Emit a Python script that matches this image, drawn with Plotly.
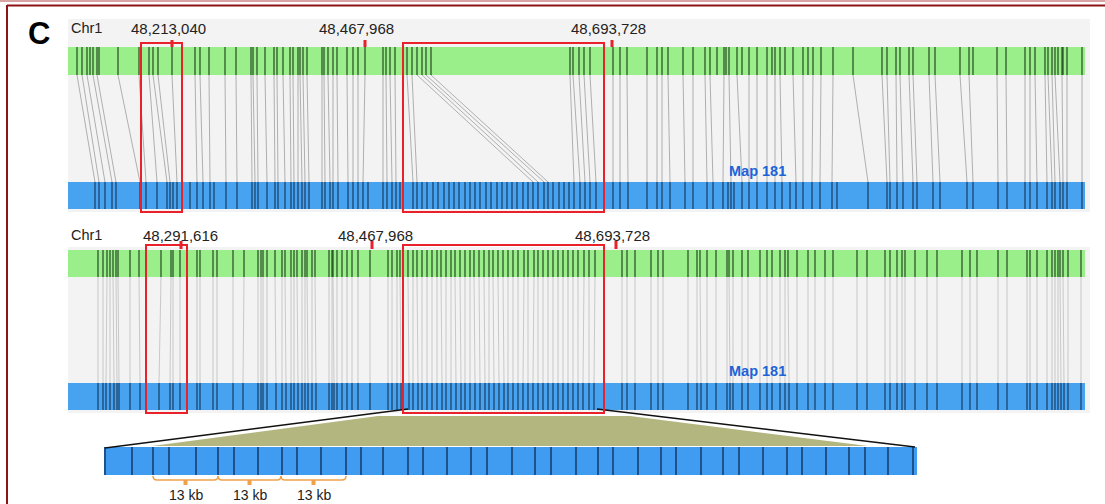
import plotly.graph_objects as go

# ---------------- data (positions in the drawing's horizontal units) ----------------
REF1 = [77, 82, 87, 90, 93, 97, 99, 118, 139, 149, 153, 158, 172, 195, 200, 209, 225, 236, 251, 253, 257,
        265, 274, 277, 283, 290, 293, 298, 300, 303, 307, 322, 324, 328, 333, 337, 347, 353, 358, 365, 383,
        386, 390, 395, 407, 412, 417, 422, 426, 431, 570, 573, 579, 584, 590, 613, 620, 627, 647, 657, 662,
        668, 683, 693, 705, 710, 717, 724, 726, 729, 737, 742, 749, 757, 767, 772, 775, 780, 785, 793, 803,
        808, 813, 821, 833, 853, 882, 887, 896, 900, 909, 913, 929, 935, 960, 969, 973, 997, 1006, 1025,
        1030, 1035, 1045, 1048, 1052, 1055, 1058, 1062, 1063, 1067, 1082]

MAP1 = [95, 99, 105, 112, 116, 140, 146, 157, 167, 170, 173, 177, 190, 197, 203, 210, 214, 226, 237, 252,
        255, 258, 267, 275, 278, 285, 291, 294, 298, 302, 305, 309, 322, 325, 330, 333, 338, 348, 353, 358,
        363, 368, 383, 387, 392, 396, 400, 413, 417, 422, 427, 433, 438, 444, 449, 454, 459, 465, 470, 475,
        480, 486, 491, 497, 502, 507, 512, 517, 523, 528, 533, 538, 544, 548, 553, 559, 564, 569, 574, 580,
        585, 590, 596, 613, 620, 628, 647, 657, 662, 670, 685, 693, 707, 713, 723, 728, 731, 734, 742, 749,
        757, 767, 775, 782, 790, 796, 803, 812, 820, 832, 837, 868, 887, 890, 897, 903, 913, 917, 933, 940,
        967, 973, 998, 1007, 1025, 1030, 1037, 1047, 1052, 1055, 1060, 1063, 1067, 1082]

ALN1_REF = [77, 82, 87, 93, 97, 118, 139, 149, 153, 158, 172, 195, 200, 209, 225, 236, 251, 253, 257, 265,
            274, 277, 283, 290, 293, 298, 300, 303, 307, 322, 324, 328, 333, 337, 347, 353, 358, 365, 383,
            386, 390, 395, 407, 412, 417, 422, 426, 431, 570, 573, 579, 584, 590, 613, 620, 627, 647, 657,
            662, 668, 683, 693, 705, 710, 724, 729, 737, 749, 757, 767, 775, 780, 793, 803, 813, 821, 833,
            853, 882, 887, 896, 900, 909, 913, 929, 935, 960, 969, 997, 1006, 1025, 1030, 1035, 1045, 1048,
            1052, 1055, 1062, 1067, 1082]
ALN1_MAP = [95, 99, 105, 112, 116, 140, 146, 157, 167, 170, 177, 197, 203, 210, 226, 237, 252, 255, 258, 267,
            275, 278, 285, 291, 294, 298, 302, 305, 309, 322, 325, 330, 333, 338, 348, 353, 358, 363, 383,
            387, 392, 396, 413, 417, 533, 538, 544, 548, 574, 580, 585, 590, 596, 613, 620, 628, 647, 657,
            662, 670, 685, 693, 707, 713, 723, 731, 742, 749, 757, 767, 775, 782, 796, 803, 812, 820, 832,
            868, 887, 890, 897, 903, 913, 917, 933, 940, 967, 973, 998, 1007, 1025, 1030, 1037, 1047, 1052,
            1055, 1060, 1063, 1067, 1082]

REF2 = [98, 103, 107, 110, 113, 116, 118, 130, 139, 161, 171, 173, 180, 197, 200, 213, 217, 233, 244, 258,
        261, 263, 267, 275, 282, 285, 291, 294, 297, 302, 305, 307, 312, 315, 329, 332, 333, 337, 342, 347,
        352, 358, 370, 388, 392, 397, 400, 408, 413, 417, 422, 427, 432, 437, 441, 446, 451, 455, 460, 465,
        470, 474, 479, 484, 489, 493, 498, 503, 508, 513, 518, 524, 528, 534, 538, 543, 548, 553, 558, 563,
        568, 573, 578, 584, 589, 595, 622, 627, 635, 651, 658, 663, 688, 697, 700, 707, 716, 727, 729, 733,
        742, 748, 760, 767, 772, 780, 785, 788, 797, 808, 815, 825, 833, 857, 867, 885, 890, 897, 902, 905,
        915, 927, 937, 962, 970, 977, 998, 1007, 1027, 1030, 1037, 1047, 1052, 1055, 1058, 1060, 1063, 1068,
        1081]

MAP2 = [98, 103, 106, 110, 114, 117, 119, 130, 140, 159, 170, 173, 180, 197, 200, 213, 217, 233, 243, 258,
        261, 263, 267, 276, 282, 286, 291, 294, 298, 302, 305, 308, 312, 316, 329, 332, 334, 337, 342, 347,
        352, 358, 370, 388, 392, 397, 401, 409, 413, 418, 422, 427, 432, 437, 442, 446, 451, 456, 461, 465,
        470, 475, 480, 485, 489, 494, 499, 504, 508, 513, 518, 523, 528, 533, 538, 543, 548, 553, 558, 563,
        568, 573, 578, 583, 589, 594, 622, 627, 635, 651, 658, 663, 688, 697, 701, 707, 716, 727, 730, 733,
        742, 748, 760, 767, 772, 780, 785, 789, 797, 808, 815, 825, 833, 857, 867, 885, 890, 897, 902, 905,
        915, 927, 937, 962, 970, 977, 998, 1007, 1027, 1030, 1037, 1047, 1052, 1055, 1058, 1061, 1064, 1068,
        1081]

ZOOM_LABELS = [105, 132, 153, 169, 196, 218, 234, 258, 282, 297, 321, 346, 361, 383, 408, 423, 447, 471,
               487, 512, 535, 551, 576, 598, 613, 638, 661, 676, 701, 723, 739, 763, 787, 802, 826, 849, 865,
               888, 913]

TICKS1_X = [172, 365, 612]
TICKS1_LBL = ["48,213,040", "48,467,968", "48,693,728"]
TICKS1_TXT_X = [168, 356, 608]
TICKS2_X = [181, 372, 616]
TICKS2_LBL = ["48,291,616", "48,467,968", "48,693,728"]
TICKS2_TXT_X = [180, 375, 612]

BRACES = [(153, 218), (218, 281), (281, 346)]
BRACE_LBL = ["13 kb", "13 kb", "13 kb"]

# ---------------- styling / layout constants ----------------
GREEN = "#9aef8a"
BLUE = "#47a2ef"
GREY_BG = "#f3f3f3"
RED = "#e8212b"
FONT = "Liberation Sans, Arial, sans-serif"

PANELS = [
    dict(ref=REF1, mp=MAP1, aref=ALN1_REF, amap=ALN1_MAP, bg=(19, 212), g=(47, 75), b=(182, 209),
         tick_y=(40, 47), lbl_y=28, ticks=TICKS1_X, tl=TICKS1_LBL, tx=TICKS1_TXT_X,
         boxes=[(141, 182), (403, 604)], box_y=(43, 212), map_y=171, aln_col="rgba(120,120,120,0.7)"),
    dict(ref=REF2, mp=MAP2, aref=REF2, amap=MAP2, bg=(247, 413), g=(250, 277), b=(383, 410),
         tick_y=(241, 249), lbl_y=235, ticks=TICKS2_X, tl=TICKS2_LBL, tx=TICKS2_TXT_X,
         boxes=[(146, 187), (403, 604)], box_y=(245, 413), map_y=371, aln_col="rgba(145,145,145,0.55)"),
]

fig = go.Figure()
shapes = []
annotations = []


def seg_trace(xs0, ys0, xs1, ys1, color, width):
    xs, ys = [], []
    for a, b, c, d in zip(xs0, ys0, xs1, ys1):
        xs += [a, c, None]
        ys += [b, d, None]
    fig.add_trace(go.Scatter(x=xs, y=ys, mode="lines", line=dict(color=color, width=width),
                             hoverinfo="skip", showlegend=False))


# border
shapes.append(dict(type="line", x0=0, x1=1105, y0=1, y1=1, line=dict(color="#d8a3a3", width=2), layer="below"))
shapes.append(dict(type="line", x0=7, x1=1105, y0=5.5, y1=5.5, line=dict(color="#8e1414", width=2), layer="below"))
shapes.append(dict(type="line", x0=7, x1=7, y0=5, y1=504, line=dict(color="#8e1414", width=2), layer="below"))

annotations.append(dict(x=39, y=33, text="<b>C</b>", showarrow=False, xanchor="center", yanchor="middle",
                        font=dict(size=31, color="black", family=FONT)))

for p in PANELS:
    shapes.append(dict(type="rect", x0=68, x1=1090, y0=p["bg"][0], y1=p["bg"][1], fillcolor=GREY_BG,
                       line=dict(width=0), layer="below"))
    shapes.append(dict(type="rect", x0=68, x1=1085, y0=p["g"][0], y1=p["g"][1], fillcolor=GREEN,
                       line=dict(width=0), layer="below"))
    shapes.append(dict(type="rect", x0=68, x1=1085, y0=p["b"][0], y1=p["b"][1], fillcolor=BLUE,
                       line=dict(width=0), layer="below"))
    # alignment lines
    n = len(p["aref"])
    seg_trace(p["aref"], [p["g"][1]] * n, p["amap"], [p["b"][0]] * n, p["aln_col"], 0.8)
    # label marks in bars
    r = p["ref"]
    seg_trace(r, [p["g"][0]] * len(r), r, [p["g"][1]] * len(r), "rgba(15,45,15,0.85)", 1.2)
    m = p["mp"]
    seg_trace(m, [p["b"][0]] * len(m), m, [p["b"][1]] * len(m), "rgba(10,30,60,0.85)", 1.1)
    # chr label & ticks
    annotations.append(dict(x=69, y=p["lbl_y"], text="Chr1", showarrow=False, xanchor="left", yanchor="middle",
                            font=dict(size=14.5, color="#222", family=FONT)))
    for tx, tl, tk in zip(p["tx"], p["tl"], p["ticks"]):
        annotations.append(dict(x=tx, y=p["lbl_y"], text=tl, showarrow=False, xanchor="center",
                                yanchor="middle", font=dict(size=15, color="#222", family=FONT)))
        shapes.append(dict(type="line", x0=tk, x1=tk, y0=p["tick_y"][0], y1=p["tick_y"][1],
                           line=dict(color=RED, width=3)))
    annotations.append(dict(x=727, y=p["map_y"], text="<b>Map 181</b>", showarrow=False, xanchor="left",
                            yanchor="middle", font=dict(size=14.5, color="#1d63d8", family=FONT)))
    for bx in p["boxes"]:
        shapes.append(dict(type="rect", x0=bx[0], x1=bx[1], y0=p["box_y"][0], y1=p["box_y"][1],
                           line=dict(color=RED, width=2), fillcolor="rgba(0,0,0,0)"))

# zoomed region
shapes.append(dict(type="path", path="M 378 416 L 630 416 L 868 446 L 152 446 Z", fillcolor="#b3b67f",
                   line=dict(width=0), layer="below"))
seg_trace([408, 597], [409, 409], [105, 915], [448, 447], "#111", 1.5)
shapes.append(dict(type="rect", x0=104, x1=917, y0=447, y1=475, fillcolor="#3f9cf0",
                   line=dict(width=0), layer="below"))
nz = len(ZOOM_LABELS)
seg_trace(ZOOM_LABELS, [447] * nz, ZOOM_LABELS, [475] * nz, "rgba(10,30,70,0.9)", 1.3)

ORANGE = "#f0a04a"
for (a, b), lbl in zip(BRACES, BRACE_LBL):
    c = (a + b) / 2
    shapes.append(dict(type="path", path=f"M {a} 476 Q {a} 480 {a+4} 480 L {b-4} 480 Q {b} 480 {b} 476",
                       line=dict(color=ORANGE, width=1.5)))
    shapes.append(dict(type="rect", x0=c - 2, x1=c + 2, y0=480, y1=485, fillcolor=ORANGE,
                       line=dict(width=0)))
    annotations.append(dict(x=c, y=495, text=lbl, showarrow=False, xanchor="center", yanchor="middle",
                            font=dict(size=14, color="#222", family=FONT)))

fig.update_layout(
    width=1105, height=504, margin=dict(l=0, r=0, t=0, b=0),
    paper_bgcolor="white", plot_bgcolor="white",
    xaxis=dict(range=[0, 1105], visible=False, fixedrange=True),
    yaxis=dict(range=[504, 0], visible=False, fixedrange=True),
    shapes=shapes, annotations=annotations, showlegend=False, hovermode=False,
)
fig.write_html("out.html")
